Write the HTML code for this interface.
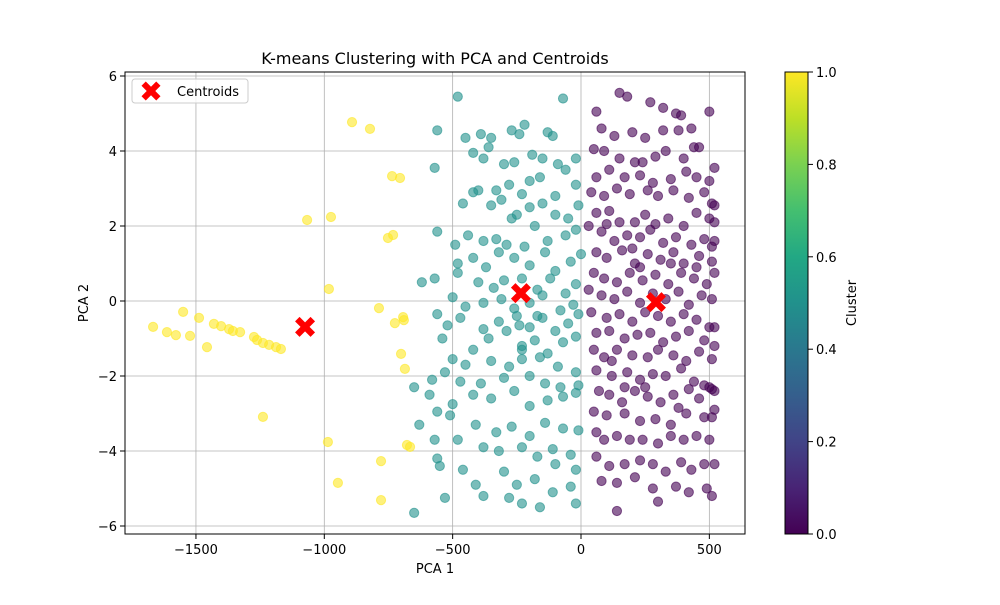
<!DOCTYPE html>
<html><head><meta charset="utf-8"><style>
body{margin:0;background:#fff}
svg text{font-family:"DejaVu Sans","Liberation Sans",sans-serif;fill:#000}
</style></head><body>
<svg id="chart" width="1000" height="600" xmlns="http://www.w3.org/2000/svg">
<defs><linearGradient id="vir" x1="0" y1="1" x2="0" y2="0">
<stop offset="0" stop-color="#440154"/><stop offset="0.1" stop-color="#482475"/><stop offset="0.2" stop-color="#414487"/><stop offset="0.3" stop-color="#355f8d"/><stop offset="0.4" stop-color="#2a788e"/><stop offset="0.5" stop-color="#21918c"/><stop offset="0.6" stop-color="#22a884"/><stop offset="0.7" stop-color="#44bf70"/><stop offset="0.8" stop-color="#7ad151"/><stop offset="0.9" stop-color="#bddf26"/><stop offset="1" stop-color="#fde725"/></linearGradient></defs>
</svg>
<script>
const xTicks=[-1500,-1000,-500,0,500];
const yTicks=[-6,-4,-2,0,2,4,6];
const cbTicks=[0,0.2,0.4,0.6,0.8,1.0];
const yellowPts=[[-1667,-0.69],[-1613,-0.83],[-1578,-0.91],[-1550,-0.29],[-1523,-0.93],[-1488,-0.45],[-1457,-1.23],[-1430,-0.61],[-1402,-0.67],[-1371,-0.75],[-1356,-0.8],[-1328,-0.83],[-1274,-0.96],[-1262,-1.04],[-1239,-1.12],[-1215,-1.17],[-1188,-1.23],[-1169,-1.28],[-1239,-3.09],[-1067,2.16],[-974,2.24],[-982,0.32],[-986,-3.76],[-947,-4.85],[-892,4.77],[-822,4.59],[-787,-0.19],[-779,-4.27],[-779,-5.31],[-736,3.33],[-705,3.28],[-752,1.68],[-732,1.76],[-725,-0.59],[-693,-0.43],[-701,-1.41],[-686,-1.81],[-678,-3.84],[-666,-3.89],[-690,-0.51]];
const tealPts=[[-480,5.45],[-450,4.35],[-560,4.55],[-390,4.45],[-350,4.35],[-270,4.55],[-240,4.45],[-220,4.7],[-130,4.5],[-110,4.4],[-70,5.4],[-420,3.95],[-360,4.1],[-300,3.65],[-190,3.9],[-150,3.8],[-90,3.65],[-20,3.8],[-570,3.55],[-380,3.8],[-260,3.7],[-160,3.3],[-60,3.5],[-400,2.95],[-330,2.95],[-280,3.1],[-230,2.85],[-200,3.2],[-100,2.8],[-20,3.1],[-460,2.6],[-420,2.9],[-350,2.55],[-310,2.7],[-270,2.2],[-250,2.3],[-200,2.5],[-150,2.6],[-100,2.3],[-50,2.2],[-10,2.55],[-560,1.85],[-440,1.75],[-380,1.6],[-330,1.65],[-290,1.5],[-220,1.45],[-180,2.0],[-130,1.6],[-60,1.75],[-20,1.9],[-490,1.5],[-480,1.0],[-420,1.15],[-370,0.9],[-320,1.3],[-260,1.15],[-200,0.95],[-140,1.3],[-100,0.8],[-40,1.05],[0,1.25],[-620,0.5],[-570,0.6],[-480,0.75],[-400,0.5],[-340,0.35],[-300,0.55],[-230,0.6],[-170,0.3],[-120,0.6],[-60,0.2],[-20,0.45],[-500,0.1],[-450,-0.15],[-380,-0.05],[-310,0.05],[-260,-0.2],[-200,-0.05],[-150,0.15],[-80,-0.25],[-30,-0.1],[-560,-0.35],[-470,-0.45],[-380,-0.75],[-320,-0.55],[-250,-0.4],[-200,-0.7],[-150,-0.45],[-100,-0.8],[-50,-0.6],[-10,-0.35],[-520,-0.65],[-540,-1.0],[-420,-1.3],[-360,-1.0],[-290,-0.8],[-230,-1.2],[-180,-1.05],[-130,-1.4],[-70,-1.1],[-20,-0.95],[-500,-1.55],[-450,-1.7],[-350,-1.6],[-280,-1.75],[-230,-1.55],[-160,-1.5],[-90,-1.75],[-20,-1.9],[-530,-1.9],[-580,-2.1],[-470,-2.15],[-390,-2.2],[-300,-2.05],[-200,-2.0],[-140,-2.2],[-80,-2.3],[-10,-2.25],[-590,-2.5],[-500,-2.75],[-420,-2.5],[-350,-2.6],[-260,-2.4],[-200,-2.8],[-130,-2.65],[-70,-2.55],[-20,-2.45],[-650,-2.3],[-560,-2.95],[-510,-3.05],[-410,-3.3],[-330,-3.5],[-270,-3.35],[-200,-3.6],[-140,-3.25],[-70,-3.4],[-10,-3.45],[-630,-3.3],[-570,-3.7],[-480,-3.7],[-380,-3.9],[-320,-4.0],[-230,-3.9],[-170,-4.15],[-110,-3.95],[-40,-4.1],[-20,-4.5],[-560,-4.2],[-550,-4.4],[-460,-4.5],[-410,-4.9],[-300,-4.55],[-250,-4.9],[-180,-4.75],[-100,-4.35],[-40,-4.95],[-530,-5.25],[-380,-5.2],[-280,-5.25],[-230,-5.4],[-160,-5.5],[-110,-5.1],[-20,-5.4],[-650,-5.65],[-170,-0.4],[-230,-1.3],[-240,-0.65]];
const purplePts=[[60,5.05],[150,5.55],[180,5.45],[270,5.3],[320,5.15],[370,5.0],[390,4.95],[500,5.05],[80,4.6],[130,4.4],[200,4.5],[250,4.35],[320,4.55],[380,4.55],[430,4.6],[50,4.05],[90,4.0],[150,3.8],[210,3.7],[240,3.7],[290,3.85],[330,4.0],[400,3.8],[440,4.1],[460,4.1],[520,3.55],[60,3.3],[110,3.5],[170,3.3],[230,3.35],[280,3.15],[350,3.25],[410,3.45],[450,3.3],[500,3.2],[40,2.9],[90,2.8],[140,3.0],[190,2.85],[260,2.95],[300,2.8],[360,2.95],[420,2.75],[480,2.9],[520,2.55],[510,2.6],[60,2.35],[110,2.4],[150,2.1],[210,2.1],[250,2.3],[290,2.05],[340,2.2],[400,2.0],[450,2.35],[500,2.2],[30,2.0],[80,1.85],[130,1.6],[180,1.75],[230,1.7],[270,1.9],[320,1.55],[370,1.7],[430,1.5],[480,1.65],[520,1.6],[510,1.45],[60,1.3],[100,1.15],[160,1.35],[210,1.0],[260,1.25],[310,1.1],[360,1.3],[400,1.0],[460,1.2],[510,1.05],[50,0.75],[90,0.6],[140,0.5],[190,0.75],[240,0.55],[290,0.7],[340,0.45],[390,0.75],[440,0.6],[490,0.45],[520,0.75],[30,0.3],[80,0.15],[130,0.05],[180,0.25],[230,-0.05],[280,0.2],[330,0.05],[380,0.25],[420,-0.1],[470,0.15],[510,0.05],[40,-0.3],[100,-0.45],[150,-0.35],[200,-0.55],[250,-0.3],[300,-0.4],[350,-0.55],[400,-0.35],[450,-0.5],[500,-0.7],[60,-0.85],[110,-0.8],[170,-1.0],[220,-0.9],[270,-0.85],[320,-1.1],[370,-0.95],[420,-0.8],[480,-1.05],[520,-1.2],[50,-1.3],[90,-1.5],[140,-1.3],[200,-1.45],[260,-1.5],[300,-1.3],[360,-1.45],[410,-1.6],[460,-1.35],[510,-1.55],[60,-1.85],[120,-2.0],[180,-1.9],[230,-2.1],[280,-1.95],[330,-2.0],[390,-1.8],[440,-2.15],[480,-2.25],[520,-2.4],[510,-2.35],[500,-2.3],[70,-2.4],[110,-2.5],[160,-2.7],[210,-2.4],[260,-2.55],[310,-2.7],[360,-2.5],[420,-2.35],[460,-2.6],[510,-3.1],[50,-2.95],[100,-3.05],[170,-3.0],[230,-3.2],[290,-3.15],[350,-3.3],[410,-3.0],[480,-3.1],[60,-3.5],[90,-3.7],[140,-3.6],[190,-3.7],[240,-3.7],[300,-3.8],[350,-3.6],[400,-3.7],[450,-3.6],[500,-3.7],[60,-4.15],[110,-4.4],[170,-4.35],[230,-4.25],[280,-4.35],[330,-4.55],[390,-4.3],[430,-4.5],[480,-4.35],[520,-4.35],[80,-4.8],[140,-4.85],[210,-4.7],[280,-5.0],[370,-4.95],[420,-5.1],[490,-5.0],[510,-5.2],[140,-5.6],[300,-5.35],[100,2.05],[200,1.4],[350,1.0],[450,0.9],[120,-1.6],[250,-2.3],[380,-2.85],[520,-2.9],[520,2.1],[520,-0.7],[230,0.9],[170,-2.3]];
const centroids=[[-1075,-0.69],[-234,0.21],[292,-0.03]];

const svg=document.getElementById('chart');
const NS='http://www.w3.org/2000/svg';
const L=125,R=745,T=72,B=534;
const sx=v=>581+(v)*0.2567;
const sy=v=>301-v*37.5;
function mk(tag,attrs,parent){const e=document.createElementNS(NS,tag);for(const k in attrs)e.setAttribute(k,attrs[k]);(parent||svg).appendChild(e);return e;}
function txt(s,x,y,size,anchor,name,parent){const t=mk('text',{x:x,y:y,'font-size':size,'text-anchor':anchor},parent);t.textContent=s;


return t;}

const grid=mk('g',{});


xTicks.forEach(v=>{const x=sx(v);
const l=mk('line',{x1:x,x2:x,y1:T,y2:B,stroke:'#b0b0b0','stroke-width':0.8},grid);


mk('line',{x1:x,x2:x,y1:B,y2:B+5,stroke:'#000'});
txt(v<0?'\u2212'+Math.abs(v):String(v),x,B+20,13,'middle','x-tick-label');});
yTicks.forEach(v=>{const y=sy(v);
const l=mk('line',{x1:L,x2:R,y1:y,y2:y,stroke:'#b0b0b0','stroke-width':0.8},grid);


mk('line',{x1:L-5,x2:L,y1:y,y2:y,stroke:'#000'});
txt(v<0?'\u2212'+Math.abs(v):String(v),L-8,y+5,13,'end','y-tick-label');});

function series(pts,color,name){const g=mk('g',{});


pts.forEach(p=>{const c=mk('circle',{cx:sx(p[0]),cy:sy(p[1]),r:4.6,fill:color,'fill-opacity':0.6,stroke:color,'stroke-opacity':0.6,'stroke-width':1},g);

});}
series(yellowPts,'#fde725','cluster-1-points');
series(tealPts,'#21918c','cluster-2-points');
series(purplePts,'#440154','cluster-0-points');

function xmark(x,y,s,parent){const a=s*0.45;
return mk('path',{d:`M${x-s+a},${y-s} L${x},${y-a} L${x+s-a},${y-s} L${x+s},${y-s+a} L${x+a},${y} L${x+s},${y+s-a} L${x+s-a},${y+s} L${x},${y+a} L${x-s+a},${y+s} L${x-s},${y+s-a} L${x-a},${y} L${x-s},${y-s+a} Z`,fill:'#ff0000'},parent);}
centroids.forEach(c=>{const m=xmark(sx(c[0]),sy(c[1]),10);

});

const frame=mk('rect',{x:L,y:T,width:R-L,height:B-T,fill:'none',stroke:'#000','stroke-width':1});



txt('K-means Clustering with PCA and Centroids',(L+R)/2,64,16,'middle','chart-title');
txt('PCA 1',(L+R)/2,573,13,'middle','x-axis-title');
const yt=txt('PCA 2',88,(T+B)/2,13,'middle','y-axis-title');yt.setAttribute('transform',`rotate(-90 88 ${(T+B)/2})`);

const lg=mk('g',{});


mk('rect',{x:132,y:79,width:116,height:24,rx:3,fill:'#fff','fill-opacity':0.8,stroke:'#ccc'},lg);
const lm=xmark(151,91,9.5,lg);


txt('Centroids',177,96,13,'start','legend-entry',lg);

const cbX=785,cbW=23;
const cb=mk('rect',{x:cbX,y:T,width:cbW,height:B-T,fill:'url(#vir)',stroke:'#000','stroke-width':1});


cbTicks.forEach(v=>{const y=B-v*(B-T);
mk('line',{x1:cbX+cbW,x2:cbX+cbW+5,y1:y,y2:y,stroke:'#000'});
txt(v.toFixed(1),cbX+cbW+8,y+5,13,'start','colorbar-tick-label');});
const ct=txt('Cluster',856,(T+B)/2,13,'middle','colorbar-title');ct.setAttribute('transform',`rotate(-90 856 ${(T+B)/2})`);
</script>
</body></html>
